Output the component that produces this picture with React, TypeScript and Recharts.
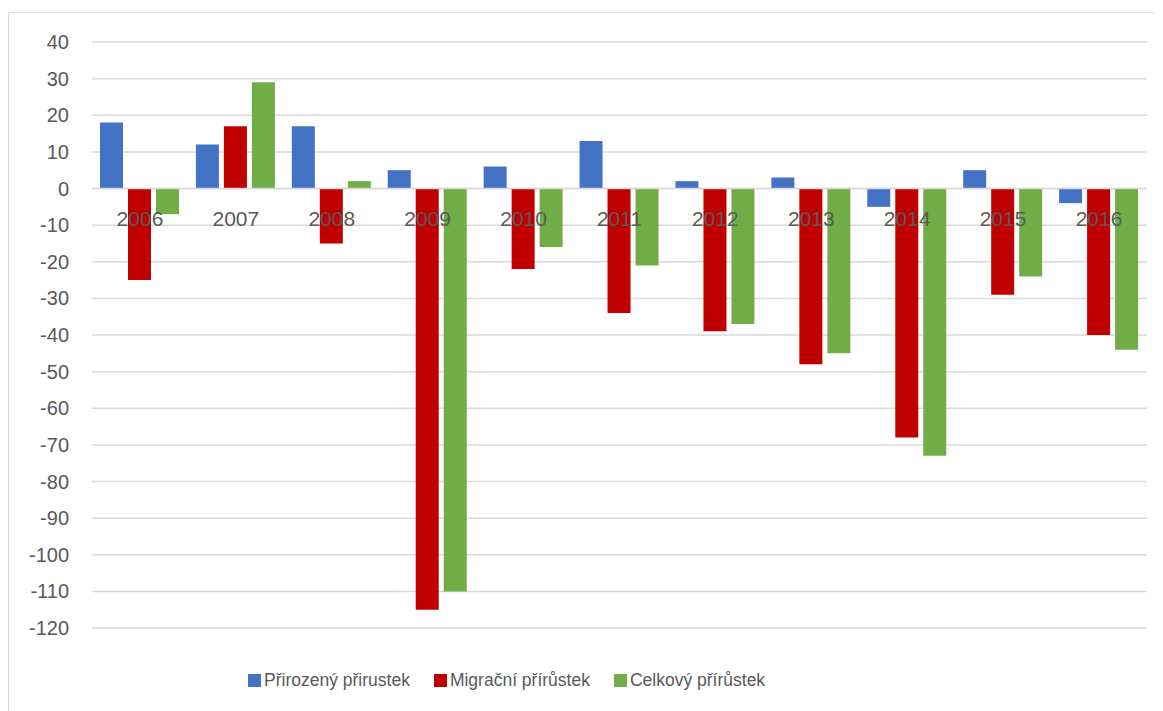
import React from 'react';
import { BarChart, Bar, XAxis, YAxis, CartesianGrid, Legend, ReferenceLine } from 'recharts';

const years = ['2006', '2007', '2008', '2009', '2010', '2011', '2012', '2013', '2014', '2015', '2016'];
const prirozeny = [18, 12, 17, 5, 6, 13, 2, 3, -5, 5, -4];
const migracni = [-25, 17, -15, -115, -22, -34, -39, -48, -68, -29, -40];
const celkovy = [-7, 29, 2, -110, -16, -21, -37, -45, -73, -24, -44];
const yTicks = [-120, -110, -100, -90, -80, -70, -60, -50, -40, -30, -20, -10, 0, 10, 20, 30, 40];

const seriesNames = ['Přirozený přirustek', 'Migrační přírůstek', 'Celkový přírůstek'];
const seriesColors = ['#4472C4', '#C00000', '#70AD47'];

const data = years.map((y, i) => ({
  year: y,
  p: prirozeny[i],
  m: migracni[i],
  c: celkovy[i],
}));

const FONT = '"Liberation Sans", Arial, sans-serif';
const TEXT = '#595959';

const CategoryLabels = (props: any) => {
  const vb = props.viewBox || {};
  const { x = 0, y = 0, width = 0 } = vb;
  const n = years.length;
  return (
    <g>
      {years.map((yr, i) => (
        <text
          key={yr}
          x={x + (width * (i + 0.5)) / n}
          y={y + 30}
          textAnchor="middle"
          dominantBaseline="central"
          fill={TEXT}
          fontSize={21}
          fontFamily={FONT}
        >
          {yr}
        </text>
      ))}
    </g>
  );
};

const LegendContent = () => (
  <div style={{ display: 'flex', justifyContent: 'flex-start', alignItems: 'center', height: 30, paddingLeft: 239, fontFamily: FONT }}>
    {seriesNames.map((name, i) => (
      <div key={name} style={{ display: 'flex', alignItems: 'center', marginRight: i < 2 ? 24 : 0 }}>
        <div style={{ width: 13, height: 13, background: seriesColors[i], marginRight: 3 }} />
        <span style={{ fontSize: 17.5, color: TEXT }}>{name}</span>
      </div>
    ))}
  </div>
);

export default function App() {
  return (
    <div style={{ marginTop: 4, width: 1152, height: 700, border: '1px solid #d9d9d9', background: '#fff' }}>
      <BarChart
        width={1152}
        height={700}
        data={data}
        margin={{ top: 29, right: 14, left: 0, bottom: 55 }}
        barCategoryGap={8}
        barGap={5}
      >
        <CartesianGrid vertical={false} stroke="#d9d9d9" strokeWidth={1.5} />
        <XAxis dataKey="year" hide />
        <YAxis
          width={83}
          domain={[-120, 40]}
          ticks={yTicks}
          interval={0}
          axisLine={false}
          tickLine={false}
          tickSize={0}
          tickMargin={23}
          tick={{ fill: TEXT, fontSize: 20, fontFamily: FONT }}
        />
        <Legend
          verticalAlign="bottom"
          content={<LegendContent />}
          wrapperStyle={{ top: 652, bottom: 'auto', left: 0, width: 1152, height: 30 }}
        />
        <Bar dataKey="p" name={seriesNames[0]} fill={seriesColors[0]} isAnimationActive={false} />
        <Bar dataKey="m" name={seriesNames[1]} fill={seriesColors[1]} isAnimationActive={false} />
        <Bar dataKey="c" name={seriesNames[2]} fill={seriesColors[2]} isAnimationActive={false} />
        <ReferenceLine y={0} stroke="#d9d9d9" strokeWidth={1.5} label={(p: any) => <CategoryLabels viewBox={p.viewBox} />} />
      </BarChart>
    </div>
  );
}
